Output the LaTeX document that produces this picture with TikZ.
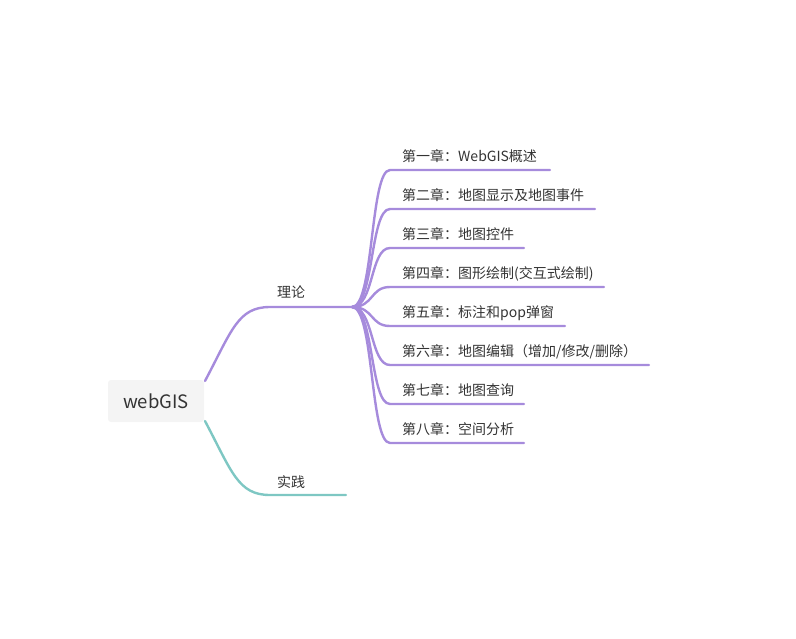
\documentclass[tikz,border=0pt]{standalone}
\usepackage{fontspec}
\setmainfont{Noto Sans CJK SC}
\definecolor{lila}{HTML}{A68BDC}
\definecolor{mint}{HTML}{7EC7C3}
\definecolor{boxgray}{HTML}{F4F4F4}
\definecolor{ink}{HTML}{333333}
\tikzset{
  topic/.style={fill=boxgray, rounded corners=3pt, minimum width=96pt, minimum height=42pt, text=ink, font=\fontsize{18.5}{20}\selectfont},
  label/.style={text=ink, font=\fontsize{14}{16}\selectfont, inner sep=0pt},
  limb/.style={line width=2.4pt, line cap=round}
}
\begin{document}
\begin{tikzpicture}[x=1pt, y=-1pt]
    \useasboundingbox (0,0) rectangle (796,638);
    % root
    \node[topic] (root) at (156,401) {webGIS};
    \coordinate (rt) at (205,381);
    \coordinate (rb) at (205,421);
    % first level
    \coordinate (th) at (352,307);
    \coordinate (pr) at (346,495);
    \node[label] (theory) at (291,292) {理论};
    \node[label] (practice) at (291,482) {实践};
    \draw[limb, lila] (rt) .. controls (232,330) and (238,307) .. (270,307) -- (th);
    \draw[limb, mint] (rb) .. controls (232,472) and (238,495) .. (270,495) -- (pr);
    % chapters
    \foreach \i/\y/\e/\t in {1/170/550/{第一章：WebGIS概述},
        2/209/595/{第二章：地图显示及地图事件},
        3/248/524/{第三章：地图控件},
        4/287/604/{第四章：图形绘制(交互式绘制)},
        5/326/565/{第五章：标注和pop弹窗},
        6/365/649/{第六章：地图编辑（增加/修改/删除）},
        7/404/524/{第七章：地图查询},
        8/443/524/{第八章：空间分析}}{
      \coordinate (s\i) at (390,\y);
      \coordinate (e\i) at (\e,\y);
      \node[label, anchor=base west] (c\i) at (402,\y-9) {\t};
      \draw[limb, lila] (th) .. controls (374,307) and (370,\y) .. (s\i) -- (e\i);
    }
\end{tikzpicture}
\end{document}
